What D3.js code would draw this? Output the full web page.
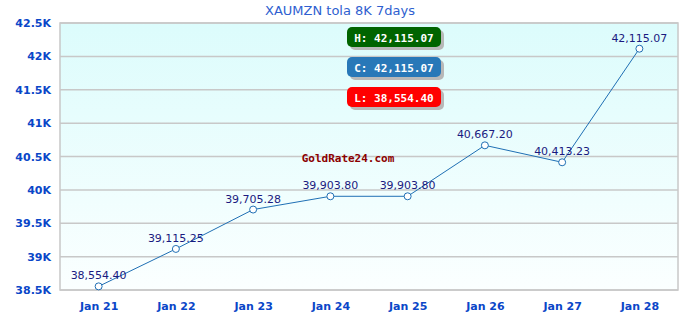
<!DOCTYPE html>
<html>
<head>
<meta charset="utf-8">
<script src="https://cdn.jsdelivr.net/npm/d3@7"></script>
<style>
  body { margin: 0; background: #fff; }
  text { font-family: Verdana, "DejaVu Sans", sans-serif; }
</style>
</head>
<body>
<div id="chart-area"></div>
<script>
// Chart data
let days = ["Jan 21", "Jan 22", "Jan 23", "Jan 24", "Jan 25", "Jan 26", "Jan 27", "Jan 28"];
let prices = [38554.40, 39115.25, 39705.28, 39903.80, 39903.80, 40667.20, 40413.23, 42115.07];
let yTicks = [38500, 39000, 39500, 40000, 40500, 41000, 41500, 42000, 42500];
let badges = [
    {label: "H: 42,115.07", color: "#006400"},
    {label: "C: 42,115.07", color: "#2878b8"},
    {label: "L: 38,554.40", color: "#ff0000"}
];

let margin = {top: 23, right: 2, bottom: 30, left: 60};
let width = 680 - margin.left - margin.right;
let height = 320 - margin.top - margin.bottom;

let root = d3.select("#chart-area").append("svg")
    .attr("width", 680)
    .attr("height", 320);

let defs = root.append("defs");
let grad = defs.append("linearGradient")
    .attr("id", "bg")
    .attr("x1", 0).attr("y1", 0).attr("x2", 0).attr("y2", 1);
grad.append("stop").attr("offset", "0%").attr("stop-color", "#dcfcfc");
grad.append("stop").attr("offset", "100%").attr("stop-color", "#fbffff");

// Title
root.append("text")
    .attr("x", 340)
    .attr("y", 15)
    .attr("text-anchor", "middle")
    .attr("fill", "#2f5fd0")
    .style("font-size", "13px")
    .text("XAUMZN tola 8K 7days");

let svg = root.append("g")
    .attr("transform", "translate(" + margin.left + "," + margin.top + ")");

let xScale = d3.scalePoint()
    .domain(days)
    .range([0, width])
    .padding(0.5);

let yScale = d3.scaleLinear()
    .domain([38500, 42500])
    .range([height, 0]);

svg.append("rect")
    .attr("width", width)
    .attr("height", height)
    .attr("fill", "url(#bg)");

// Gridlines
svg.selectAll(".grid")
    .data(yTicks)
    .enter().append("line")
    .attr("x1", 0)
    .attr("x2", width)
    .attr("y1", d => yScale(d))
    .attr("y2", d => yScale(d))
    .attr("stroke", "#c8c8c8")
    .attr("stroke-width", 1.5);

svg.append("rect")
    .attr("width", width)
    .attr("height", height)
    .attr("fill", "none")
    .attr("stroke", "#c8c8c8")
    .attr("stroke-width", 1.5);

// Axes
let yAxis = d3.axisLeft(yScale)
    .tickValues(yTicks)
    .tickSize(0)
    .tickPadding(9)
    .tickFormat(d => (d / 1000) + "K");

let xAxis = d3.axisBottom(xScale)
    .tickSize(0)
    .tickPadding(12);

let gy = svg.append("g").call(yAxis);
let gx = svg.append("g").attr("transform", "translate(0," + height + ")").call(xAxis);

[gy, gx].forEach(g => {
    g.select(".domain").remove();
    g.selectAll("text")
        .attr("fill", "#0a46c8")
        .style("font-size", "11px")
        .style("font-weight", "bold")
        .style("font-family", "Verdana, 'DejaVu Sans', sans-serif");
});

// Watermark
svg.append("text")
    .attr("x", 288)
    .attr("y", 139)
    .attr("text-anchor", "middle")
    .attr("fill", "#8b0000")
    .style("font-family", "'DejaVu Sans Mono', monospace")
    .style("font-size", "11px")
    .style("font-weight", "bold")
    .text("GoldRate24.com");

// Line
svg.append("path")
    .datum(prices)
    .attr("fill", "none")
    .attr("stroke", "#1f6fb4")
    .attr("stroke-width", 1)
    .attr("d", d3.line()
        .x((d, i) => xScale(days[i]))
        .y(d => yScale(d)));

svg.selectAll(".pt")
    .data(prices)
    .enter().append("circle")
    .attr("cx", (d, i) => xScale(days[i]))
    .attr("cy", d => yScale(d))
    .attr("r", 3.5)
    .attr("fill", "#fff")
    .attr("stroke", "#1f6fb4")
    .attr("stroke-width", 1);

svg.selectAll(".val")
    .data(prices)
    .enter().append("text")
    .attr("x", (d, i) => xScale(days[i]))
    .attr("y", d => yScale(d) - 7)
    .attr("text-anchor", "middle")
    .attr("fill", "#1a1a80")
    .style("font-size", "11px")
    .text(d => d3.format(",.2f")(d));

// H / C / L badges
let badge = svg.selectAll(".badge")
    .data(badges)
    .enter().append("g")
    .attr("transform", (d, i) => "translate(287," + (4 + i * 30) + ")");

badge.append("rect")
    .attr("x", 3).attr("y", 3)
    .attr("width", 94).attr("height", 20)
    .attr("rx", 5)
    .attr("fill", "#b8b8b8");

badge.append("rect")
    .attr("width", 94).attr("height", 20)
    .attr("rx", 5)
    .attr("fill", d => d.color);

badge.append("text")
    .attr("x", 47)
    .attr("y", 14.5)
    .attr("text-anchor", "middle")
    .attr("fill", "#fff")
    .style("font-family", "'DejaVu Sans Mono', monospace")
    .style("font-size", "11px")
    .style("font-weight", "bold")
    .text(d => d.label);
</script>
</body>
</html>
